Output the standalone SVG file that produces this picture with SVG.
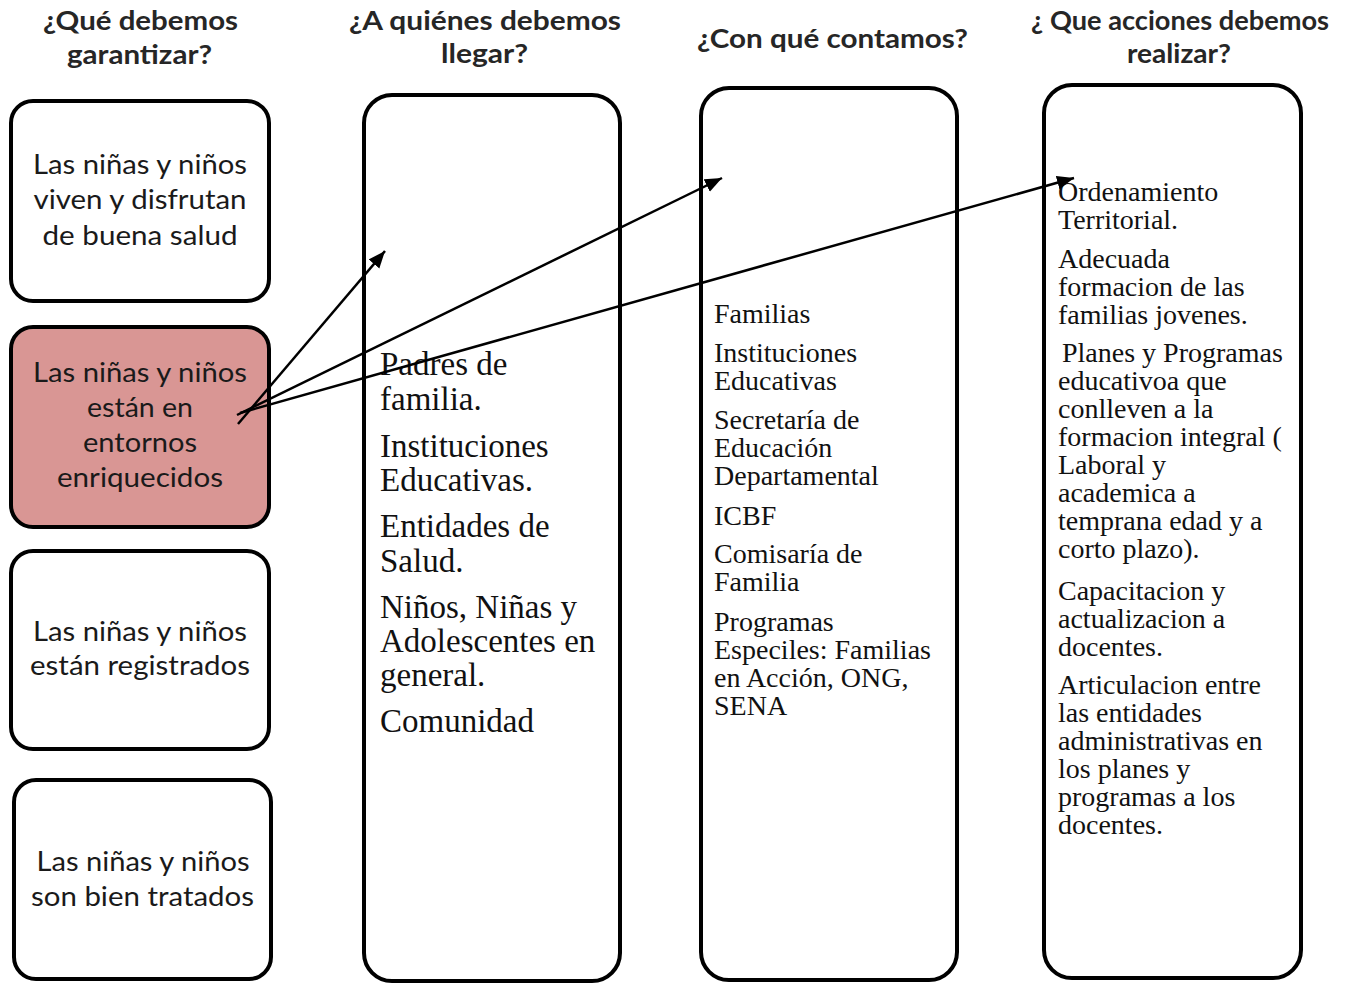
<svg xmlns="http://www.w3.org/2000/svg" width="1347" height="983" viewBox="0 0 1347 983">
<style>
.bg{fill:#ffffff}
.box{fill:#ffffff;stroke:#000;stroke-width:4}
.pink{fill:#d99694}
.hdr{font-family:Lato,"Open Sans","Liberation Sans",sans-serif;font-weight:bold;font-size:26px;fill:#262626;text-anchor:middle}
.nt{font-family:Lato,"Open Sans","Liberation Sans",sans-serif;font-size:27px;fill:#1a1a1a;text-anchor:middle}
.c2{font-family:"Liberation Serif","DejaVu Serif",serif;font-size:33px;fill:#111}
.c3{font-family:"Liberation Serif","DejaVu Serif",serif;font-size:28px;fill:#111}
.conn{stroke:#000;stroke-width:2.5;fill:none;marker-end:url(#ah)}
</style>
<defs>
<marker id="ah" markerUnits="userSpaceOnUse" markerWidth="20" markerHeight="16" refX="17" refY="7" orient="auto">
<path d="M0,0 L17,7 L0,14 Z" fill="#000"/>
</marker>
</defs>
<rect class="bg" x="0" y="0" width="1347" height="983"/>

<g id="headers">
<text class="hdr" x="140.5" y="30" textLength="195" lengthAdjust="spacingAndGlyphs">¿Qué debemos</text>
<text class="hdr" x="139.5" y="64" textLength="145" lengthAdjust="spacingAndGlyphs">garantizar?</text>
<text class="hdr" x="485" y="30" textLength="272" lengthAdjust="spacingAndGlyphs">¿A quiénes debemos</text>
<text class="hdr" x="484.5" y="63" textLength="87" lengthAdjust="spacingAndGlyphs">llegar?</text>
<text class="hdr" x="832.5" y="48" textLength="271" lengthAdjust="spacingAndGlyphs">¿Con qué contamos?</text>
<text class="hdr" x="1180" y="30" textLength="298" lengthAdjust="spacingAndGlyphs">¿ Que acciones debemos</text>
<text class="hdr" x="1179" y="63" textLength="104" lengthAdjust="spacingAndGlyphs">realizar?</text>
</g>

<g id="node-salud">
<rect class="box" x="11" y="101" width="258" height="200" rx="22"/>
<text class="nt" x="140" y="174" textLength="214" lengthAdjust="spacingAndGlyphs">Las niñas y niños</text>
<text class="nt" x="140" y="209" textLength="213" lengthAdjust="spacingAndGlyphs">viven y disfrutan</text>
<text class="nt" x="140" y="245" textLength="195" lengthAdjust="spacingAndGlyphs">de buena salud</text>
</g>

<g id="node-entornos">
<rect class="box pink" x="11" y="327" width="258" height="200" rx="22"/>
<text class="nt" x="140" y="382" textLength="214" lengthAdjust="spacingAndGlyphs">Las niñas y niños</text>
<text class="nt" x="140" y="417" textLength="106" lengthAdjust="spacingAndGlyphs">están en</text>
<text class="nt" x="140" y="452" textLength="114" lengthAdjust="spacingAndGlyphs">entornos</text>
<text class="nt" x="140" y="487" textLength="166" lengthAdjust="spacingAndGlyphs">enriquecidos</text>
</g>

<g id="node-registrados">
<rect class="box" x="11" y="551" width="258" height="198" rx="22"/>
<text class="nt" x="140" y="641" textLength="214" lengthAdjust="spacingAndGlyphs">Las niñas y niños</text>
<text class="nt" x="140" y="675" textLength="220" lengthAdjust="spacingAndGlyphs">están registrados</text>
</g>

<g id="node-tratados">
<rect class="box" x="14" y="780" width="257" height="199" rx="22"/>
<text class="nt" x="143" y="871" textLength="213" lengthAdjust="spacingAndGlyphs">Las niñas y niños</text>
<text class="nt" x="142.5" y="906" textLength="223" lengthAdjust="spacingAndGlyphs">son bien tratados</text>
</g>

<g id="col-llegar">
<rect class="box" x="364" y="95" width="256" height="886" rx="28"/>
<text class="c2" x="380" y="375">Padres de</text>
<text class="c2" x="380" y="410">familia.</text>
<text class="c2" x="380" y="457">Instituciones</text>
<text class="c2" x="380" y="491">Educativas.</text>
<text class="c2" x="380" y="537">Entidades de</text>
<text class="c2" x="380" y="572">Salud.</text>
<text class="c2" x="380" y="618">Niños, Niñas y</text>
<text class="c2" x="380" y="652">Adolescentes en</text>
<text class="c2" x="380" y="686">general.</text>
<text class="c2" x="380" y="732">Comunidad</text>
</g>

<g id="col-contamos">
<rect class="box" x="701" y="88" width="256" height="892" rx="28"/>
<text class="c3" x="714" y="323">Familias</text>
<text class="c3" x="714" y="362">Instituciones</text>
<text class="c3" x="714" y="390">Educativas</text>
<text class="c3" x="714" y="429">Secretaría de</text>
<text class="c3" x="714" y="457">Educación</text>
<text class="c3" x="714" y="485">Departamental</text>
<text class="c3" x="714" y="525">ICBF</text>
<text class="c3" x="714" y="563">Comisaría de</text>
<text class="c3" x="714" y="591">Familia</text>
<text class="c3" x="714" y="631">Programas</text>
<text class="c3" x="714" y="659">Especiles: Familias</text>
<text class="c3" x="714" y="687">en Acción, ONG,</text>
<text class="c3" x="714" y="715">SENA</text>
</g>

<g id="col-acciones">
<rect class="box" x="1044" y="85" width="257" height="893" rx="28"/>
<text class="c3" x="1058" y="201">Ordenamiento</text>
<text class="c3" x="1058" y="229">Territorial.</text>
<text class="c3" x="1058" y="268">Adecuada</text>
<text class="c3" x="1058" y="296">formacion de las</text>
<text class="c3" x="1058" y="324">familias jovenes.</text>
<text class="c3" x="1062" y="362">Planes y Programas</text>
<text class="c3" x="1058" y="390">educativoa que</text>
<text class="c3" x="1058" y="418">conlleven a la</text>
<text class="c3" x="1058" y="446">formacion integral (</text>
<text class="c3" x="1058" y="474">Laboral y</text>
<text class="c3" x="1058" y="502">academica a</text>
<text class="c3" x="1058" y="530">temprana edad y a</text>
<text class="c3" x="1058" y="558">corto plazo).</text>
<text class="c3" x="1058" y="600">Capacitacion y</text>
<text class="c3" x="1058" y="628">actualizacion a</text>
<text class="c3" x="1058" y="656">docentes.</text>
<text class="c3" x="1058" y="694">Articulacion entre</text>
<text class="c3" x="1058" y="722">las entidades</text>
<text class="c3" x="1058" y="750">administrativas en</text>
<text class="c3" x="1058" y="778">los planes y</text>
<text class="c3" x="1058" y="806">programas a los</text>
<text class="c3" x="1058" y="834">docentes.</text>
</g>

<g id="connectors">
<line class="conn" x1="238" y1="424" x2="385" y2="251"/>
<line class="conn" x1="237" y1="415" x2="722" y2="178"/>
<line class="conn" x1="240" y1="413" x2="1074" y2="178"/>
</g>
</svg>
